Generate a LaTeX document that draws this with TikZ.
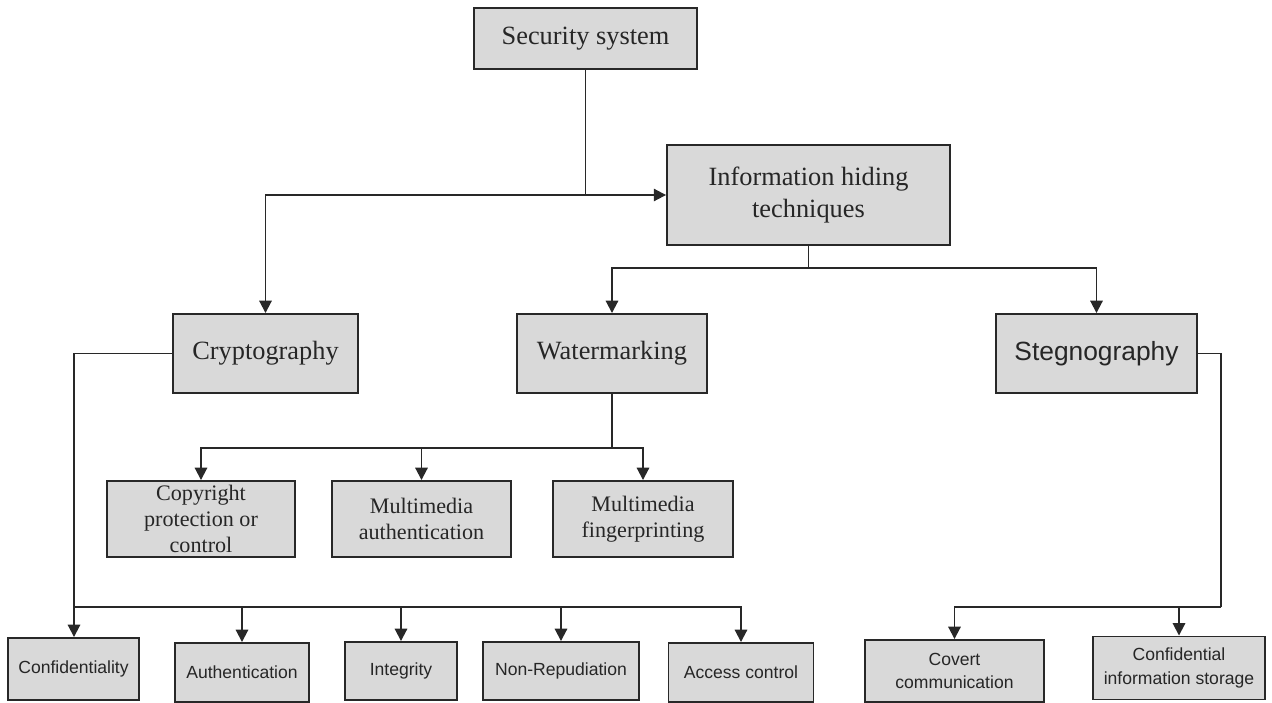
\documentclass[tikz,border=0pt]{standalone}
\usepackage{fontspec}
\setmainfont{Liberation Serif}
\setsansfont{Liberation Sans}
\usetikzlibrary{arrows.meta}
\definecolor{boxgray}{RGB}{217,217,217}
\definecolor{linegray}{RGB}{40,40,40}
\tikzset{
  box/.style={draw=linegray,fill=boxgray,line width=1.1pt,inner sep=0pt,align=center,text=black!85},
  big/.style={font=\fontsize{15}{18}\selectfont},
  mid/.style={font=\fontsize{12.6}{15}\selectfont},
  small/.style={font=\sffamily\fontsize{10}{13.5}\selectfont},
  wire/.style={draw=linegray,line width=1.1pt},
  arr/.style={wire,-{Triangle[length=7pt,width=7pt]}}
}
\begin{document}
\begin{tikzpicture}[x=0.02cm,y=-0.02cm]
    \useasboundingbox (0,0) rectangle (1272,703);

    % top levels
    \node[box,big,minimum width=4.46cm,minimum height=1.22cm] (sec) at (585.5,38.5) {Security system};
    \node[box,big,minimum width=5.66cm,minimum height=2cm] (info) at (808.5,195) {Information hiding\\techniques};
    \node[box,big,minimum width=3.7cm,minimum height=1.58cm] (crypt) at (265.5,353.5) {Cryptography};
    \node[box,big,minimum width=3.8cm,minimum height=1.58cm] (water) at (612,353.5) {Watermarking};
    \node[box,big,font=\sffamily\fontsize{15}{18}\selectfont,minimum width=4.02cm,minimum height=1.58cm] (steg) at (1096.5,353.5) {Stegnography};

    % watermarking uses
    \node[box,mid,minimum width=3.76cm,minimum height=1.52cm] (copy) at (201,519) {Copyright\\protection or\\control};
    \node[box,mid,minimum width=3.58cm,minimum height=1.52cm] (mmauth) at (421.5,519) {Multimedia\\authentication};
    \node[box,mid,minimum width=3.6cm,minimum height=1.52cm] (mmfp) at (643,519) {Multimedia\\fingerprinting};

    % cryptography services
    \node[box,small,minimum width=2.62cm,minimum height=1.24cm] (conf) at (73.5,669) {Confidentiality};
    \node[box,small,minimum width=2.68cm,minimum height=1.18cm] (auth) at (242,672.5) {Authentication};
    \node[box,small,minimum width=2.24cm,minimum height=1.16cm] (integ) at (401,671) {Integrity};
    \node[box,small,minimum width=3.12cm,minimum height=1.16cm] (nonrep) at (561,671) {Non-Repudiation};
    \node[box,small,minimum width=2.9cm,minimum height=1.18cm] (access) at (741,672.5) {Access control};

    % stegnography uses
    \node[box,small,minimum width=3.58cm,minimum height=1.24cm] (covert) at (954.5,671) {Covert\\communication};
    \node[box,small,minimum width=3.44cm,minimum height=1.26cm] (confstor) at (1179,668) {Confidential\\information storage};

    % junctions
    \coordinate (secjoin) at (sec.south |- info.west);
    \coordinate (ihjoin) at (808.5,268);
    \coordinate (wmjoin) at (612,448);
    \coordinate (crbus) at (74,607);
    \coordinate (stbus) at (1221,607);

    \draw[arr] (sec.south) -- (secjoin) -- (info.west);
    \draw[arr] (secjoin) -| (crypt.north);

    \draw[wire] (info.south) -- (ihjoin);
    \draw[arr] (ihjoin) -| (water.north);
    \draw[arr] (ihjoin) -| (steg.north);

    \draw[wire] (water.south) -- (wmjoin);
    \draw[arr] (wmjoin) -| (copy.north);
    \draw[arr] (wmjoin) -| (mmauth.north);
    \draw[arr] (wmjoin) -| (mmfp.north);

    \draw[wire] (crypt.west) -| (crbus);
    \draw[arr] (crbus) -- (crbus |- conf.north);
    \foreach \n in {auth,integ,nonrep,access}
      \draw[arr] (crbus) -| (\n.north);

    \draw[wire] (steg.east) -| (stbus);
    \draw[arr] (stbus) -| (covert.north);
    \draw[arr] (stbus) -| (confstor.north);
  \end{tikzpicture}
\end{document}
